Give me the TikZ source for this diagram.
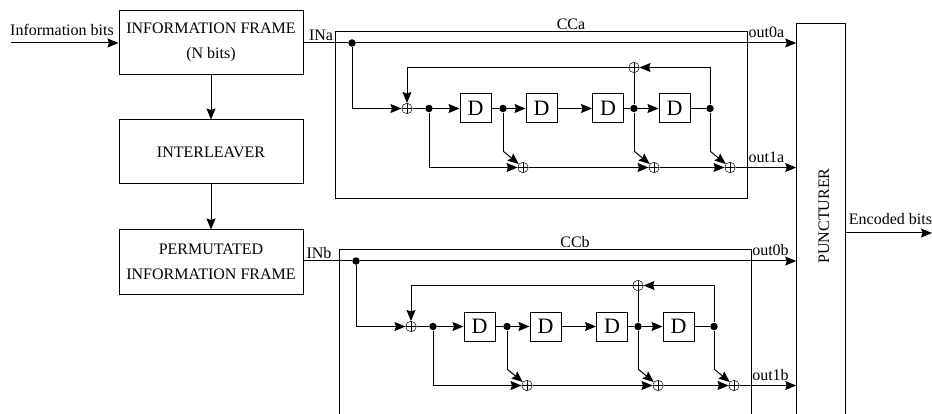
\documentclass[tikz,border=0pt]{standalone}
\usepackage{fontspec}
\setmainfont{Liberation Serif}
\usetikzlibrary{arrows.meta}

\begin{document}
\begin{tikzpicture}[x=1pt,y=-1pt,>={Stealth[length=11pt,width=9pt,inset=1.5pt]},line width=1pt,
		every node/.style={font=\fontsize{16}{25}\selectfont},
		framebox/.style={draw,minimum width=184pt,minimum height=64pt,align=center,inner sep=0pt},
		delaybox/.style={draw,minimum width=31pt,minimum height=29pt,inner sep=0pt,font=\fontsize{22}{22}\selectfont},
		dot/.style={circle,fill=black,minimum size=7.5pt,inner sep=0pt},
		xorgate/.style={circle,draw,line width=.5pt,minimum size=10.5pt,inner sep=0pt,
			path picture={\draw [line width=.5pt] (path picture bounding box.north) -- (path picture bounding box.south)
				(path picture bounding box.west) -- (path picture bounding box.east);}}]
			\useasboundingbox (0,0) rectangle (932,414);
			\clip (0,0) rectangle (932,414);

			\node [framebox] (framea) at (211,42.25) {INFORMATION FRAME\\(N bits)};
			\node [framebox] (interleaver) at (211,152) {INTERLEAVER};
			\node [framebox] (frameb) at (211,262) {PERMUTATED\\INFORMATION FRAME};
			\node [draw,minimum width=48.5pt,minimum height=410pt,inner sep=0pt] (punct) at (821,228.5) {};
			\node [rotate=90] (punctlabel) at (824,216) {PUNCTURER};

			\coordinate (infoin) at (11,43);
			\node (infolabel) at (62,30) {Information bits};
			\draw [->] (infoin) -- (infoin -| framea.west);
			\draw [->] (framea) -- (interleaver);
			\draw [->] (interleaver) -- (frameb);

			\coordinate (encodedout) at (932,233);
			\node (encodedlabel) at (890.5,219) {Encoded bits};
			\draw [->] (encodedout -| punct.east) -- (encodedout);

			\foreach \cc/\dx/\dy/\inx in {a/0/0/321,b/4/218/315} {
				\begin{scope}[shift={(\dx,\dy)}]
					\node [draw,minimum width=412pt,minimum height=166.3pt,inner sep=0pt] (cc\cc) at (541,115) {};
					\node (cclabel\cc) at (571,24.5) {CC\cc};
					\node (inlabel\cc) at (\inx,35) {IN\cc};
					\node (outzerolabel\cc) at (766.5,32) {out0\cc};
					\node (outonelabel\cc) at (766.5,157) {out1\cc};

					\node [dot] (dotin\cc) at (352,43) {};
					\node [xorgate] (xorin\cc) at (407,108.5) {};
					\node [dot] (dota\cc) at (429,108.5) {};
					\node [delaybox] (da\cc) at (475.5,108.5) {D};
					\node [dot] (dotb\cc) at (503,108.5) {};
					\node [delaybox] (db\cc) at (541.5,108.5) {D};
					\node [delaybox] (dc\cc) at (608,108.5) {D};
					\node [dot] (dotc\cc) at (634,108.5) {};
					\node [delaybox] (dd\cc) at (674.5,108.5) {D};
					\node [dot] (dotd\cc) at (710,108.5) {};
					\node [xorgate] (xorfb\cc) at (634,67.5) {};
					\node [xorgate] (xora\cc) at (523,167.5) {};
					\node [xorgate] (xorb\cc) at (654,167.5) {};
					\node [xorgate] (xorc\cc) at (730,167.5) {};
					\coordinate (benda\cc) at (503,151);
					\coordinate (bendb\cc) at (634,151);
					\coordinate (bendc\cc) at (710,151);

					\draw (frame\cc.east |- dotin\cc) -- (dotin\cc);
					\draw [->] (dotin\cc) -- (dotin\cc -| punct.west);
					\draw [->] (dotin\cc) |- (xorin\cc);
					\draw (xorin\cc) -- (dota\cc);
					\draw [->] (dota\cc) -- (da\cc);
					\draw (da\cc) -- (dotb\cc);
					\draw [->] (dotb\cc) -- (db\cc);
					\draw [->] (db\cc) -- (dc\cc);
					\draw (dc\cc) -- (dotc\cc);
					\draw [->] (dotc\cc) -- (dd\cc);
					\draw (dd\cc) -- (dotd\cc);

					\draw [->] (dotd\cc) |- (xorfb\cc);
					\draw (dotc\cc) -- (xorfb\cc);
					\draw [->] (xorfb\cc) -| (xorin\cc);

					\draw [->] (dota\cc) |- (xora\cc);
					\draw [->] (xora\cc) -- (xorb\cc);
					\draw [->] (xorb\cc) -- (xorc\cc);
					\draw [->] (xorc\cc) -- (xorc\cc -| punct.west);
					\draw (dotb\cc) -- (benda\cc);
					\draw [->] (benda\cc) -- (xora\cc);
					\draw (dotc\cc) -- (bendb\cc);
					\draw [->] (bendb\cc) -- (xorb\cc);
					\draw (dotd\cc) -- (bendc\cc);
					\draw [->] (bendc\cc) -- (xorc\cc);
				\end{scope}
			}
		\end{tikzpicture}
\end{document}
